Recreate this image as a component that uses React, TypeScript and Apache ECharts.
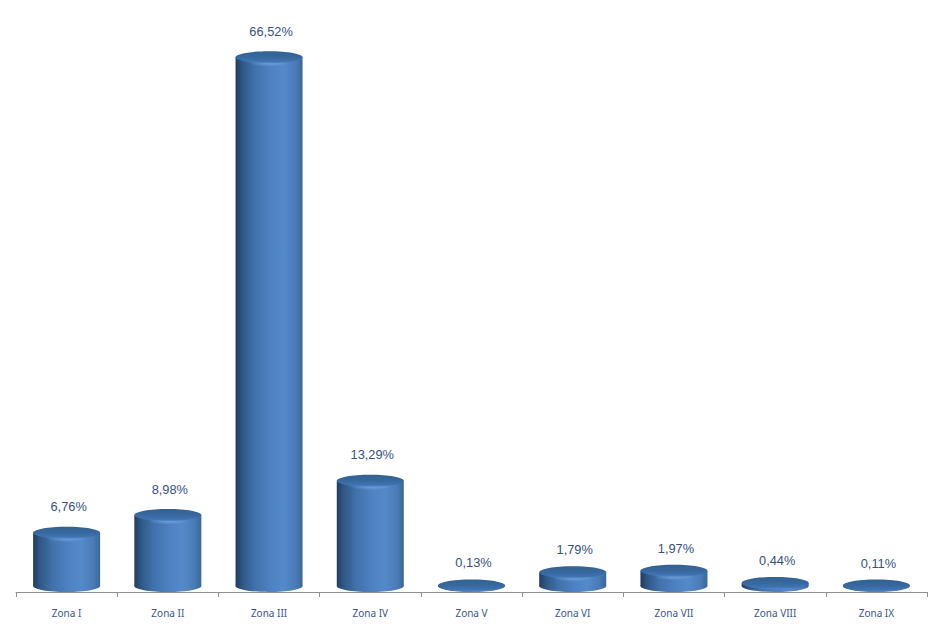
import React, { useEffect, useRef } from "react";
import * as echarts from "echarts";

const categories = ["Zona I", "Zona II", "Zona III", "Zona IV", "Zona V", "Zona VI", "Zona VII", "Zona VIII", "Zona IX"];
const shares = [6.76, 8.98, 66.52, 13.29, 0.13, 1.79, 1.97, 0.44, 0.11];

const bodyFill = () =>
  new echarts.graphic.LinearGradient(0, 0, 1, 0, [
    { offset: 0, color: "#1f3c60" },
    { offset: 0.1, color: "#2f5785" },
    { offset: 0.28, color: "#4071aa" },
    { offset: 0.55, color: "#4f83c3" },
    { offset: 0.72, color: "#5489ca" },
    { offset: 0.9, color: "#4a7bb6" },
    { offset: 1, color: "#3a6699" },
  ]);
const capFill = () =>
  new echarts.graphic.LinearGradient(0, 0, 0, 1, [
    { offset: 0, color: "#34618f" },
    { offset: 0.5, color: "#37689f" },
    { offset: 0.85, color: "#4073b0" },
    { offset: 1, color: "#558bcb" },
  ]);
const glowFill = () =>
  new echarts.graphic.RadialGradient(0.5, 0.5, 0.5, [
    { offset: 0, color: "rgba(125,170,225,0.75)" },
    { offset: 1, color: "rgba(125,170,225,0)" },
  ]);

const renderCylinder = (params: any, api: any) => {
  const idx = api.value(0);
  const value = api.value(1);
  const [cx, vy] = api.coord([idx, value]);
  const width = (api.size([1, 0])[0] as number) * 0.662;
  const rx = width / 2;
  const ry = 6;
  const topY = vy - 5.5;
  const baseY = api.coord([idx, 0])[1] - 6;
  const labelGap = value < 5 ? 22.5 : 26;
  const tall = baseY - topY > 8;
  return {
    type: "group",
    children: [
      { type: "ellipse", shape: { cx, cy: baseY, rx, ry }, style: { fill: bodyFill() } },
      { type: "rect", shape: { x: cx - rx, y: topY, width, height: Math.max(baseY - topY, 0) }, style: { fill: bodyFill() } },
      ...(tall
        ? [{ type: "ellipse", shape: { cx, cy: topY + ry, rx: rx * 0.6, ry: 3.5 }, style: { fill: glowFill() } }]
        : []),
      { type: "ellipse", shape: { cx, cy: topY, rx, ry }, style: { fill: capFill() } },
      {
        type: "text",
        x: cx + 2,
        y: topY - labelGap,
        style: {
          text: value.toFixed(2).replace(".", ",") + "%",
          fill: "#35507f",
          font: '12.8px "Liberation Sans", Arial, sans-serif',
          align: "center",
          verticalAlign: "middle",
        },
      },
    ],
  };
};

export default function App() {
  const ref = useRef<HTMLDivElement>(null);
  useEffect(() => {
    const chart = echarts.init(ref.current!, undefined, { renderer: "svg" });
    chart.setOption({
      animation: false,
      backgroundColor: "#ffffff",
      grid: { left: 16, right: 17, top: 35, bottom: 36 },
      xAxis: {
        type: "category",
        data: categories,
        axisLine: { lineStyle: { color: "#8f8f8f", width: 1 } },
        axisTick: { show: true, alignWithLabel: false, length: 5, lineStyle: { color: "#8f8f8f" } },
        axisLabel: { color: "#3c5685", fontSize: 10, fontFamily: '"Noto Sans", Tahoma, sans-serif', margin: 16, interval: 0 },
      },
      yAxis: { type: "value", min: 0, max: 70, show: false, splitLine: { show: false } },
      series: [
        {
          type: "custom",
          renderItem: renderCylinder,
          encode: { x: 0, y: 1 },
          data: shares.map((v, i) => [i, v]),
          clip: false,
        },
      ],
    });
    return () => chart.dispose();
  }, []);
  return <div ref={ref} style={{ position: "fixed", left: 0, top: 0, width: 944, height: 628 }} />;
}
